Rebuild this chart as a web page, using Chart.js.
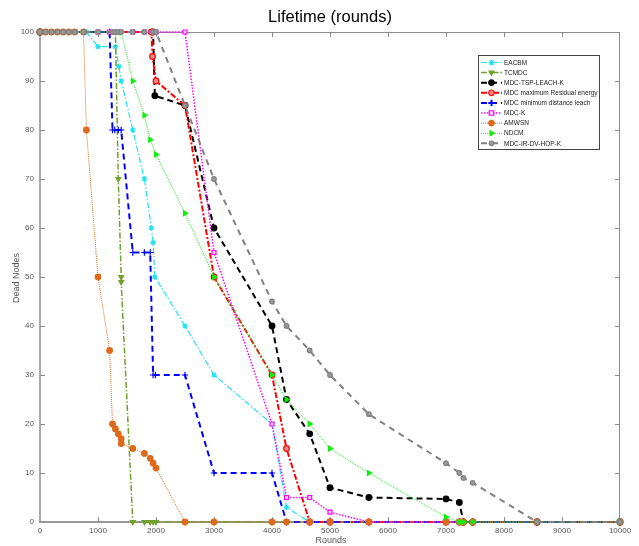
<!DOCTYPE html>
<html><head><meta charset="utf-8">
<script src="https://cdn.jsdelivr.net/npm/chart.js@4/dist/chart.umd.min.js"></script>
<style>html,body{margin:0;padding:0;background:#fff}#c{display:block}</style>
</head><body>
<canvas id="c" width="639" height="546"></canvas>
<script>
// ---- data ----
const xTicks = [0,1000,2000,3000,4000,5000,6000,7000,8000,9000,10000];
const yTicks = [0,10,20,30,40,50,60,70,80,90,100];
const titleText = 'Lifetime (rounds)';
const xTitle = 'Rounds';
const yTitle = 'Dead Nodes';
const labels = ['EACBM','TCMDC','MDC-TSP-LEACH-K','MDC maximum Residual energy','MDC minimum distance leach','MDC-K','AMWSN','NDCM','MDC-IR-DV-HOP-K'];

const eacbmX = [0,800,1000,1300,1360,1400,1600,1800,1920,1950,1980,2500,3000,4000,4250,4650,5000,5670,7000,7230,7300,7460,8570,10000];
const eacbmY = [100,100,97,97,93,90,80,70,60,57,50,40,30,20,3,0,0,0,0,0,0,0,0,0];
const tcmdcX = [0,1300,1350,1400,1400,1600,1800,1900,1950,2000,2500,3000,4000,4250,4650,5000,5670,7000,7230,7300,7460,8570,10000];
const tcmdcY = [100,100,70,50,49,0,0,0,0,0,0,0,0,0,0,0,0,0,0,0,0,0,0];
const tspX = [0,1950,1980,2500,3000,4000,4250,4650,5000,5670,7000,7230,7300,7460,8570,10000];
const tspY = [100,100,87,85,60,40,25,18,7,5,4.7,4,0,0,0,0];
const resX = [0,1920,1940,2000,2500,3000,4000,4250,4650,5000,5670,7000,7230,7300,7460,8570,10000];
const resY = [100,100,95,90,85,50,30,15,0,0,0,0,0,0,0,0,0];
const minX = [0,1200,1250,1290,1350,1400,1600,1800,1900,1950,1990,2500,3000,4000,4250,4650,5000,5670,7000,7230,7300,7460,8570,10000];
const minY = [100,100,80,80,80,80,55,55,55,30,30,30,10,10,0,0,0,0,0,0,0,0,0,0];
const mdckX = [0,1000,1200,1600,1800,2000,2500,3000,4000,4250,4650,5000,5670,7000,7230,7300,7460,8570,10000];
const mdckY = [100,100,100,100,100,100,100,55,20,5,5,2,0,0,0,0,0,0,0];
const amwsnX = [0,100,200,300,400,500,600,750,800,1000,1200,1250,1300,1350,1400,1400,1600,1800,1900,1950,2000,2500,3000,4000,4250,4650,5000,5670,7000,7230,7300,7460,8570,10000];
const amwsnY = [100,100,100,100,100,100,100,100,80,50,35,20,19,18,17,16,15,14,13,12,11,0,0,0,0,0,0,0,0,0,0,0,0,0];
const ndcmX = [0,1400,1600,1800,1900,2000,2500,3000,4000,4250,4650,5000,5670,7000,7230,7300,7460,8570,10000];
const ndcmY = [100,100,90,83,78,75,63,50,30,25,20,15,10,1,0,0,0,0,0];
const hopX = [0,100,200,300,400,500,600,750,1000,1250,1300,1350,1400,1600,1800,1950,2000,2500,3000,4000,4250,4650,5000,5670,7000,7230,7300,7460,8570,10000];
const hopY = [100,100,100,100,100,100,100,100,100,100,100,100,100,100,100,100,100,85,70,45,40,35,30,22,12,10,9,8,0,0];

// ---- styles ----
const styles = [
  {c:'#22e2f0', bg:'#22e2f0', dash:[6,2,1.5,2], w:1.2, ps:'star', r:2.8, rot:0},
  {c:'#72a02c', bg:'#72a02c', dash:[6,2,1.5,2], w:1.5, ps:'triangle', r:2.8, rot:180},
  {c:'#000000', bg:'#000000', dash:[6,4], w:2, ps:'circle', r:2.8, rot:0},
  {c:'#ff0000', bg:'#ff8a8a', dash:[6,2,2,2], w:2, ps:'circle', r:2.8, rot:0},
  {c:'#0000ff', bg:'#0000ff', dash:[6,4], w:2, ps:'cross', r:3.2, rot:0},
  {c:'#ff00ff', bg:'#ffd0ff', dash:[1.5,1.5], w:1.5, ps:'rect', r:2.8, rot:0},
  {c:'#dd6a1c', bg:'#dd6a1c', dash:[1,1], w:1, ps:'circle', r:2.8, rot:0},
  {c:'#11ee11', bg:'#11ee11', dash:[1,1], w:1, ps:'triangle', r:2.8, rot:90},
  {c:'#808080', bg:'#9a9a9a', dash:[6,5], w:2, ps:'circle', r:2.3, rot:0}
];
const seriesX = [eacbmX,tcmdcX,tspX,resX,minX,mdckX,amwsnX,ndcmX,hopX];
const seriesY = [eacbmY,tcmdcY,tspY,resY,minY,mdckY,amwsnY,ndcmY,hopY];

const datasets = labels.map((lab,i)=>({
  label: lab,
  order: labels.length - i,
  data: seriesX[i].map((x,k)=>({x:x, y:seriesY[i][k]})),
  borderColor: styles[i].c,
  backgroundColor: styles[i].bg,
  borderWidth: styles[i].w,
  borderDash: styles[i].dash,
  pointStyle: styles[i].ps,
  pointRotation: styles[i].rot,
  pointRadius: styles[i].r,
  pointBorderWidth: 1.2,
  pointBorderColor: styles[i].c,
  pointBackgroundColor: styles[i].bg,
  tension: 0,
  fill: false,
  clip: false
}));

function drawMarker(ctx, s, x, y){
  ctx.save();
  ctx.setLineDash([]);
  ctx.strokeStyle = s.c; ctx.fillStyle = s.bg; ctx.lineWidth = 1.2;
  const r = s.r;
  ctx.translate(x,y);
  ctx.rotate(s.rot*Math.PI/180);
  ctx.beginPath();
  if (s.ps==='circle'){ ctx.arc(0,0,r,0,Math.PI*2); ctx.fill(); ctx.stroke(); }
  else if (s.ps==='rect'){ ctx.rect(-r*0.8,-r*0.8,r*1.6,r*1.6); ctx.fill(); ctx.stroke(); }
  else if (s.ps==='triangle'){ ctx.moveTo(0,-r); ctx.lineTo(r*0.87,r*0.5); ctx.lineTo(-r*0.87,r*0.5); ctx.closePath(); ctx.fill(); ctx.stroke(); }
  else if (s.ps==='cross'){ ctx.moveTo(-r,0); ctx.lineTo(r,0); ctx.moveTo(0,-r); ctx.lineTo(0,r); ctx.lineWidth=2; ctx.stroke(); }
  else if (s.ps==='star'){ ctx.moveTo(-r,0); ctx.lineTo(r,0); ctx.moveTo(0,-r); ctx.lineTo(0,r);
    const d=r*0.7; ctx.moveTo(-d,-d); ctx.lineTo(d,d); ctx.moveTo(-d,d); ctx.lineTo(d,-d); ctx.stroke(); }
  ctx.restore();
}

const decor = {
  id:'decor',
  beforeDatasetsDraw(chart){
    const ctx = chart.ctx, a = chart.chartArea;
    const xs = chart.scales.x, ys = chart.scales.y;
    ctx.save();
    ctx.setLineDash([]);
    ctx.strokeStyle = '#8c8c8c'; ctx.lineWidth = 1;
    ctx.beginPath();
    ctx.moveTo(a.left, a.top+0.5); ctx.lineTo(a.right, a.top+0.5);
    ctx.moveTo(a.right-0.5, a.top); ctx.lineTo(a.right-0.5, a.bottom);
    ctx.stroke();
    ctx.strokeStyle = '#aaaaaa'; ctx.lineWidth = 2;
    ctx.beginPath();
    ctx.moveTo(a.left, a.top); ctx.lineTo(a.left, a.bottom+1);
    ctx.stroke();
    ctx.strokeStyle = '#999999';
    ctx.beginPath();
    ctx.moveTo(a.left-1, a.bottom); ctx.lineTo(a.right, a.bottom);
    ctx.stroke();
    ctx.strokeStyle = '#8c8c8c'; ctx.lineWidth = 1;
    ctx.beginPath();
    xTicks.forEach(v=>{
      const px = Math.round(xs.getPixelForValue(v))+0.5;
      if (v>0 && v<10000){
        ctx.moveTo(px, a.bottom); ctx.lineTo(px, a.bottom-5);
        ctx.moveTo(px, a.top); ctx.lineTo(px, a.top+5);
      }
    });
    yTicks.forEach(v=>{
      const py = Math.round(ys.getPixelForValue(v))+0.5;
      if (v>0 && v<100){
        ctx.moveTo(a.left, py); ctx.lineTo(a.left+5, py);
        ctx.moveTo(a.right, py); ctx.lineTo(a.right-5, py);
      }
    });
    ctx.stroke();
    ctx.restore();
  },
  afterDraw(chart){
    const ctx = chart.ctx;
    ctx.save();
    ctx.fillStyle = '#000';
    ctx.font = '16.5px "Liberation Sans", Arial, sans-serif';
    ctx.textAlign = 'center'; ctx.textBaseline = 'middle';
    ctx.fillText(titleText, 330, 17);
    ctx.fillStyle = '#555';
    ctx.font = '9px "Liberation Sans", Arial, sans-serif';
    ctx.fillText(xTitle, 331, 541);
    ctx.translate(17, 278);
    ctx.rotate(-Math.PI/2);
    ctx.fillText(yTitle, 0, 0);
    ctx.restore();
    // legend
    ctx.save();
    const lx=478.5, ly=55.5, lw=121, lh=94;
    ctx.fillStyle='#fff'; ctx.fillRect(lx,ly,lw,lh);
    ctx.strokeStyle='#444'; ctx.lineWidth=1; ctx.setLineDash([]);
    ctx.strokeRect(lx,ly,lw,lh);
    ctx.font = '6.5px "Liberation Sans", Arial, sans-serif';
    ctx.textAlign='left'; ctx.textBaseline='middle';
    labels.forEach((lab,i)=>{
      const s = styles[i];
      const y = 62.5 + i*10.1;
      ctx.save();
      ctx.strokeStyle = s.c; ctx.lineWidth = s.w; ctx.setLineDash(s.dash);
      ctx.beginPath(); ctx.moveTo(481,y); ctx.lineTo(502,y); ctx.stroke();
      ctx.restore();
      drawMarker(ctx, s, 491.5, y);
      ctx.fillStyle='#222';
      ctx.fillText(lab, 504, y+0.5);
    });
    ctx.restore();
  }
};

new Chart(document.getElementById('c'), {
  type: 'line',
  data: { datasets: datasets },
  options: {
    responsive: false,
    animation: false,
    events: [],
    layout: { padding: { left: 0, right: 19, top: 32, bottom: 0 } },
    plugins: { legend: { display: false }, title: { display: false }, tooltip: { enabled: false } },
    scales: {
      x: {
        type: 'linear', min: 0, max: 10000,
        grid: { display: false, drawTicks: false },
        border: { display: false },
        afterFit(s){ s.height = 24; },
        afterBuildTicks(s){ s.ticks = xTicks.map(v=>({value:v})); },
        ticks: { color: '#555', font: { size: 8, family: '"Liberation Sans", Arial, sans-serif' }, padding: 4, maxRotation: 0, autoSkip: false, callback: v => String(v) }
      },
      y: {
        type: 'linear', min: 0, max: 100,
        grid: { display: false, drawTicks: false },
        border: { display: false },
        afterFit(s){ s.width = 40; },
        afterBuildTicks(s){ s.ticks = yTicks.map(v=>({value:v})); },
        ticks: { color: '#555', font: { size: 8, family: '"Liberation Sans", Arial, sans-serif' }, padding: 6, autoSkip: false, callback: v => String(v) }
      }
    }
  },
  plugins: [decor]
});
</script>
</body></html>
